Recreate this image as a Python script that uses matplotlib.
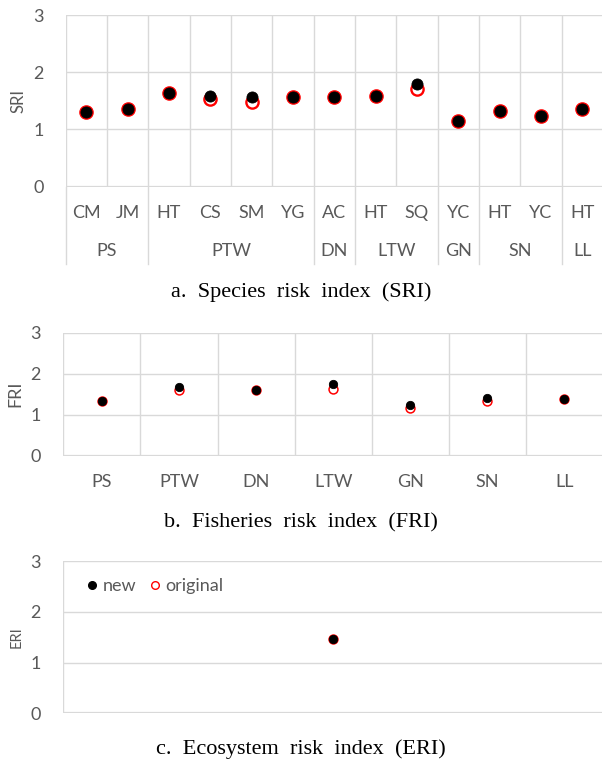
import matplotlib
matplotlib.use('Agg')
import matplotlib.pyplot as plt
from matplotlib.lines import Line2D

# a. species risk index (SRI): species grouped by fishery
sri_species = ['CM', 'JM', 'HT', 'CS', 'SM', 'YG', 'AC', 'HT', 'SQ', 'YC', 'HT', 'YC', 'HT']
sri_groups = ['PS', 'PTW', 'DN', 'LTW', 'GN', 'SN', 'LL']
sri_group_sizes = [2, 4, 1, 2, 1, 2, 1]
sri_new = [1.30, 1.35, 1.64, 1.59, 1.56, 1.57, 1.56, 1.59, 1.80, 1.14, 1.33, 1.24, 1.35]
sri_original = [1.30, 1.35, 1.64, 1.53, 1.48, 1.57, 1.56, 1.59, 1.70, 1.14, 1.33, 1.24, 1.35]

# b. fisheries risk index (FRI)
fri_fisheries = ['PS', 'PTW', 'DN', 'LTW', 'GN', 'SN', 'LL']
fri_new = [1.34, 1.68, 1.60, 1.75, 1.24, 1.40, 1.39]
fri_original = [1.34, 1.60, 1.60, 1.63, 1.17, 1.33, 1.39]

# c. ecosystem risk index (ERI)
eri_new = [1.46]
eri_original = [1.46]

GRID = '#d9d9d9'
TXT = '#595959'
SANS = ['Lato', 'DejaVu Sans']
SERIF = ['Liberation Serif', 'DejaVu Serif']

W, H = 602, 763
fig = plt.figure(figsize=(W / 100, H / 100), dpi=100)


def axes_px(left, top, right, bottom):
    # axes box given in pixel coordinates of the picture
    return fig.add_axes([left / W, 1 - bottom / H, (right - left) / W, (bottom - top) / H])


def base(ax, ylabel, ylabel_size):
    ax.set_ylim(0, 3)
    ax.set_yticks([0, 1, 2, 3])
    for y in [1, 2, 3]:
        ax.axhline(y, color=GRID, lw=1.0, zorder=0)
    ax.axhline(0, color=GRID, lw=1.6, zorder=0)
    for s in ax.spines.values():
        s.set_visible(False)
    ax.tick_params(axis='y', length=0, pad=16, labelsize=13, labelcolor=TXT)
    for lab in ax.get_yticklabels():
        lab.set_family(SANS)
    ax.tick_params(axis='x', length=0)
    ax.set_xticks([])
    ax.set_ylabel(ylabel, fontsize=ylabel_size, color=TXT, family=SANS, labelpad=5)
    ax.set_facecolor('white')


def points(ax, x, new, orig, ms_new, ms_orig, mew_orig):
    ax.plot(x, orig, 'o', mfc='none', mec='red', ms=ms_orig, mew=mew_orig, zorder=3, clip_on=False)
    ax.plot(x, new, 'o', mfc='black', mec='black', ms=ms_new, mew=0.6, zorder=4, clip_on=False)


# ---- panel a
ax_a = axes_px(65.7, 15, 603, 186.7)
base(ax_a, 'SRI', 12)
n = len(sri_species)
ax_a.set_xlim(0, n)
h_a = 186.7 - 15
for b in range(n + 1):
    ax_a.axvline(b, color=GRID, lw=1.0, zorder=0)
xa = [i + 0.5 for i in range(n)]
points(ax_a, xa, sri_new, sri_original, 8.0, 8.8, 1.7)
for x, lab in zip(xa, sri_species):
    ax_a.text(x, -26 / h_a, lab, transform=ax_a.get_xaxis_transform(), ha='center', va='center',
              fontsize=13, color=TXT, family=SANS)
start = 0
bounds = [0]
for g, size in zip(sri_groups, sri_group_sizes):
    ax_a.text(start + size / 2, -64 / h_a, g, transform=ax_a.get_xaxis_transform(), ha='center',
              va='center', fontsize=13, color=TXT, family=SANS)
    start += size
    bounds.append(start)
for b in bounds:
    ax_a.plot([b, b], [0, -77 / h_a], color=GRID, lw=1.0, transform=ax_a.get_xaxis_transform(),
              clip_on=False)

# ---- panel b
ax_b = axes_px(63.3, 332.7, 603, 455.7)
base(ax_b, 'FRI', 13)
m = len(fri_fisheries)
ax_b.set_xlim(0, m)
h_b = 455.7 - 332.7
for b in range(m + 1):
    ax_b.axvline(b, color=GRID, lw=1.0, zorder=0)
xb = [i + 0.5 for i in range(m)]
points(ax_b, xb, fri_new, fri_original, 6.0, 6.4, 1.1)
for x, lab in zip(xb, fri_fisheries):
    ax_b.text(x, -26 / h_b, lab, transform=ax_b.get_xaxis_transform(), ha='center', va='center',
              fontsize=13, color=TXT, family=SANS)

# ---- panel c
ax_c = axes_px(63.3, 561, 603, 713.3)
base(ax_c, 'ERI', 10.5)
ax_c.set_xlim(0, 1)
ax_c.axvline(0, color=GRID, lw=1.0, zorder=0)
points(ax_c, [0.5], eri_new, eri_original, 6.0, 6.4, 1.1)
handles = [
    Line2D([], [], ls='none', marker='o', mfc='black', mec='black', ms=5.5),
    Line2D([], [], ls='none', marker='o', mfc='none', mec='red', ms=5.5, mew=1.0),
]
leg = ax_c.legend(handles, ['new', 'original'], loc='center left', bbox_to_anchor=(0.03, 0.835),
                  ncol=2, frameon=False, handlelength=0.6, handletextpad=0.3, columnspacing=0.7,
                  borderaxespad=0, prop={'family': SANS, 'size': 13})
for t in leg.get_texts():
    t.set_color(TXT)

# ---- captions
fig.text(0.5, 1 - 292 / H, 'a.  Species  risk  index  (SRI)', ha='center', va='center',
         fontsize=16, family=SERIF)
fig.text(0.5, 1 - 523 / H, 'b.  Fisheries  risk  index  (FRI)', ha='center', va='center',
         fontsize=16, family=SERIF)
fig.text(0.5, 1 - 749 / H, 'c.  Ecosystem  risk  index  (ERI)', ha='center', va='center',
         fontsize=16, family=SERIF)

fig.savefig('out.png', dpi=100, facecolor='white')
